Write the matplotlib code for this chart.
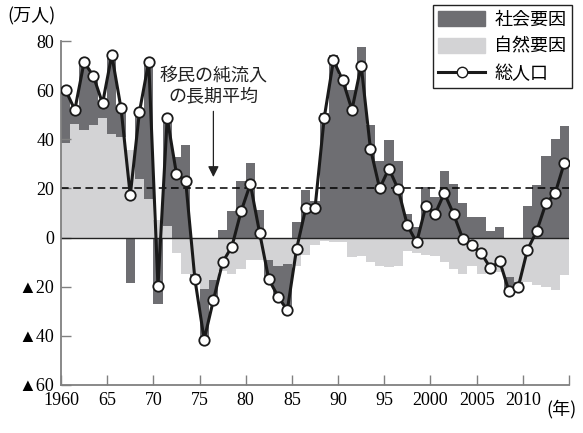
import numpy as np
import matplotlib
matplotlib.use('Agg')
import matplotlib.pyplot as plt
from matplotlib.patches import Patch
from matplotlib.lines import Line2D

# 年 (1960-2014)
years = list(range(1960, 2015))

# 自然要因 (万人)
natural = [38.3, 46.4, 43.7, 45.8, 48.8, 42.0, 41.0, 35.8, 23.7, 15.5,
           7.2, 4.9, -6.4, -14.7, -14.7, -20.8, -17.2, -13.5, -14.7, -12.7,
           -9.0, -9.0, -9.0, -11.5, -10.8, -11.5, -7.0, -3.0, -1.5, -2.0,
           -1.8, -8.0, -7.7, -10.0, -11.5, -12.0, -11.4, -5.3, -6.4, -7.3,
           -7.7, -10.0, -12.7, -14.7, -11.4, -14.7, -13.4, -14.0, -16.1, -18.1,
           -18.1, -19.5, -20.2, -21.5, -15.4]

# 社会要因 (万人)
social = [21.7, 5.6, 27.7, 20.0, 5.8, 32.3, 11.6, -18.6, 27.6, 56.1,
          -27.0, 43.7, 32.9, 37.7, -2.5, -21.0, -8.4, 3.0, 11.0, 23.0,
          30.5, 11.4, -8.5, -12.8, -19.2, 6.5, 19.5, 15.0, 50.7, 74.5,
          66.0, 60.1, 77.4, 46.0, 31.0, 39.8, 31.0, 9.7, 4.5, 20.4,
          16.6, 27.2, 21.8, 14.0, 8.3, 8.3, 2.6, 4.5, -6.5, -2.0,
          13.0, 21.5, 33.3, 40.0, 45.3]

# 総人口 (万人)
total = [60.0, 52.0, 71.4, 65.8, 54.6, 74.3, 52.6, 17.2, 51.3, 71.6,
         -19.9, 48.6, 26.0, 23.0, -17.0, -41.5, -25.5, -10.0, -3.7, 10.7,
         21.8, 2.0, -17.0, -24.0, -29.6, -4.7, 11.9, 11.9, 48.8, 72.1,
         64.0, 52.0, 70.0, 36.2, 20.0, 28.1, 19.7, 5.0, -2.0, 12.8,
         9.6, 18.1, 9.6, -0.5, -3.2, -6.4, -12.4, -9.7, -21.8, -20.2,
         -5.0, 2.6, 13.9, 18.0, 30.5]

# 移民の純流入の長期平均
avg_inflow = 20

xticks = [1960, 1965, 1970, 1975, 1980, 1985, 1990, 1995, 2000, 2005, 2010, 2015]
xlabels = ['1960', '65', '70', '75', '80', '85', '90', '95', '2000', '2005', '2010', '']
yticks = [80, 60, 40, 20, 0, -20, -40, -60]
ylabels = ['80', '60', '40', '20', '0', '▲20', '▲40', '▲60']

DARK = '#6e6e72'
LIGHT = '#d3d3d5'
AXIS = '#808080'
JP = ['Noto Sans CJK JP', 'DejaVu Sans']
NUM = ['Liberation Serif', 'DejaVu Sans']

fig = plt.figure(figsize=(5.83, 4.33), dpi=100)
ax = fig.add_axes([0.1046, 0.1109, 0.8714, 0.7944])

n = np.array(natural)
s = np.array(social)
# 社会要因は自然要因と同じ符号なら積み上げ、違えば0から
s_bottom = np.where(np.sign(s) == np.sign(n), n, 0)

ax.bar(years, natural, width=1.0, align='edge', color=LIGHT, linewidth=0, zorder=1)
ax.bar(years, social, bottom=s_bottom, width=1.0, align='edge', color=DARK, linewidth=0, zorder=1)

ax.axhline(0, color='#222222', lw=1.0, zorder=2)
ax.axhline(avg_inflow, color='black', lw=1.1, ls=(0, (5, 3)), zorder=2)

ax.plot(np.array(years) + 0.5, total, color='#1a1a1a', lw=2.2, marker='o', ms=7.5,
        mfc='white', mec='#1a1a1a', mew=1.3, zorder=3)

ax.set_xlim(1960, 2015)
ax.set_ylim(-60, 80)
ax.set_xticks(xticks)
ax.set_xticklabels(xlabels, family=NUM, fontsize=13)
ax.set_yticks(yticks)
ax.set_yticklabels(ylabels, family=NUM, fontsize=13)
ax.tick_params(direction='in', length=7, width=1.0, color=AXIS, pad=5)

for side in ['top', 'right']:
	ax.spines[side].set_visible(False)
for side in ['left', 'bottom']:
	ax.spines[side].set_color(AXIS)
	ax.spines[side].set_linewidth(1.3)

ax.text(1976.5, 61.5, '移民の純流入\nの長期平均', ha='center', va='center',
        family=JP, fontsize=13, linespacing=1.1, color='#222222')
ax.annotate('', xy=(1976.5, 23.5), xytext=(1976.5, 52.5),
            arrowprops=dict(arrowstyle='-|>', color='#222222', lw=0.9, mutation_scale=16))

fig.text(0.012, 0.962, '(万人)', family=JP, fontsize=13, va='center', ha='left')
fig.text(0.937, 0.056, '(年)', family=JP, fontsize=13, va='center', ha='left')

handles = [Patch(color=DARK), Patch(color=LIGHT),
           Line2D([], [], color='#1a1a1a', lw=2.2, marker='o', ms=7.5, mfc='white', mec='#1a1a1a')]
leg = fig.legend(handles, ['社会要因', '自然要因', '総人口'], loc='upper right',
                 bbox_to_anchor=(0.99, 1.0), prop={'family': JP, 'size': 13},
                 frameon=True, fancybox=False, edgecolor='#222222', framealpha=1,
                 handlelength=2.6, handleheight=0.95, labelspacing=0.5,
                 handletextpad=0.5, borderpad=0.3, borderaxespad=0.3)
leg.get_frame().set_linewidth(1.0)

fig.savefig('out.png', dpi=100)
